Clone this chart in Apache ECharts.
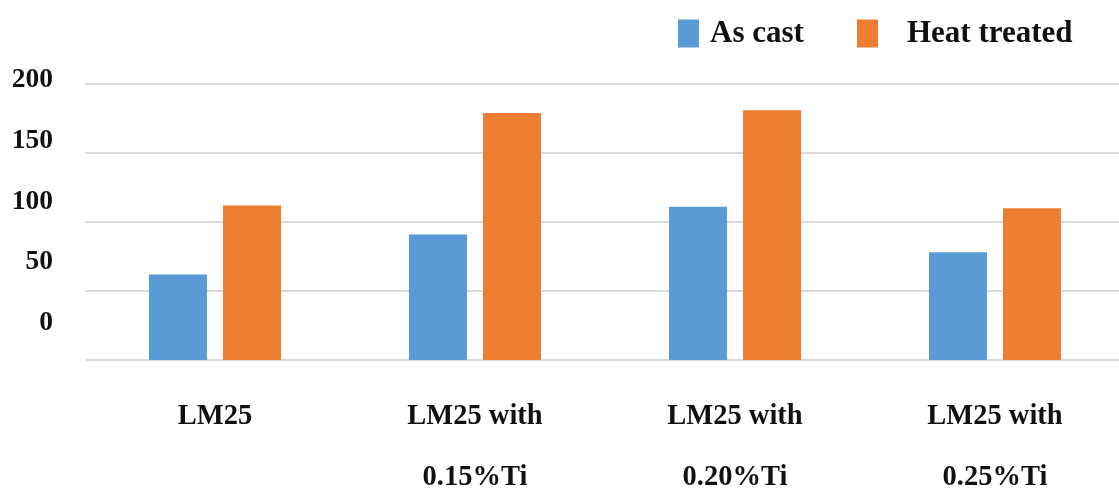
<!DOCTYPE html>
<html>
<head>
<meta charset="utf-8">
<script src="https://cdn.jsdelivr.net/npm/echarts@6/dist/echarts.min.js"></script>
<style>
  html, body { margin: 0; padding: 0; background: #ffffff; }
  #chart { width: 1119px; height: 491px; }
</style>
</head>
<body>
<div id="chart"></div>
<script>
const categories = ['LM25', 'LM25 with\n0.15%Ti', 'LM25 with\n0.20%Ti', 'LM25 with\n0.25%Ti'];
const asCast = [62, 91, 111, 78];
const heatTreated = [112, 179, 181, 110];
const yTicks = { min: 0, max: 200, interval: 50 };

const FONT = '"Liberation Serif", "Times New Roman", serif';
const chart = echarts.init(document.getElementById('chart'), null, { renderer: 'canvas' });

chart.setOption({
  backgroundColor: '#ffffff',
  animation: false,
  legend: [
    {
      data: ['As cast'],
      left: 678, top: 18, padding: 0,
      itemWidth: 21, itemHeight: 28,
      icon: 'rect',
      textStyle: { fontFamily: FONT, fontWeight: 'bold', fontSize: 31, color: '#111', padding: [0, 0, 20, 6] }
    },
    {
      data: ['Heat treated'],
      left: 857, top: 18, padding: 0,
      itemWidth: 21, itemHeight: 28,
      icon: 'rect',
      textStyle: { fontFamily: FONT, fontWeight: 'bold', fontSize: 31, color: '#111', padding: [0, 0, 20, 24] }
    }
  ],
  grid: [
    { left: 85, top: 84, width: 1040, height: 276, outerBoundsMode: 'none', containLabel: false },
    { left: 61, top: 80, width: 10, height: 243, outerBoundsMode: 'none', containLabel: false }
  ],
  xAxis: [
    {
      type: 'category',
      gridIndex: 0,
      data: categories,
      axisLine: { show: false },
      axisTick: { show: false },
      axisLabel: {
        margin: 26,
        fontFamily: FONT, fontWeight: 'bold', fontSize: 28.5, color: '#111',
        lineHeight: 61, verticalAlign: 'top'
      }
    },
    { type: 'category', gridIndex: 1, show: false, data: [''] }
  ],
  yAxis: [
    {
      type: 'value',
      gridIndex: 0,
      min: yTicks.min, max: yTicks.max, interval: yTicks.interval,
      axisLabel: { show: false },
      axisLine: { show: false },
      axisTick: { show: false },
      splitLine: { lineStyle: { color: '#d9d9d9', width: 2 } }
    },
    {
      type: 'value',
      gridIndex: 1,
      min: yTicks.min, max: yTicks.max, interval: yTicks.interval,
      axisLine: { show: false },
      axisTick: { show: false },
      splitLine: { show: false },
      axisLabel: {
        margin: 8,
        fontFamily: FONT, fontWeight: 'bold', fontSize: 27.5, color: '#111'
      }
    }
  ],
  series: [
    {
      name: 'As cast',
      type: 'bar',
      xAxisIndex: 0, yAxisIndex: 0,
      data: asCast,
      barWidth: 58,
      barGap: '27.6%',
      itemStyle: { color: '#5b9bd5' }
    },
    {
      name: 'Heat treated',
      type: 'bar',
      xAxisIndex: 0, yAxisIndex: 0,
      data: heatTreated,
      barWidth: 58,
      barGap: '27.6%',
      itemStyle: { color: '#ed7d31' }
    }
  ]
});
</script>
</body>
</html>
